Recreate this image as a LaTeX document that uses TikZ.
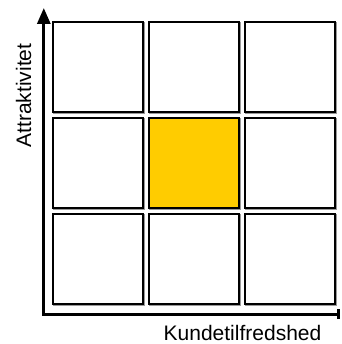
\documentclass[tikz,border=0pt]{standalone}
\usepackage{fontspec}
\setmainfont{Liberation Sans}
\usetikzlibrary{arrows.meta}
\definecolor{gold}{HTML}{FFCC00}
\tikzset{
  cell/.style={draw=black, line width=2pt, fill=white, minimum size=90pt, inner sep=0pt},
  cellshadow/.style={fill=black!40, minimum size=92pt, inner sep=0pt},
  axis/.style={line width=3pt},
  lbl/.style={font=\fontsize{21pt}{24pt}\selectfont, inner sep=0pt}
}
\begin{document}
\begin{tikzpicture}[x=1pt,y=-1pt]
\useasboundingbox (0,0) rectangle (341,344);
% shadows
\foreach \c/\x in {1/98,2/194,3/290}{
  \foreach \r/\y in {1/67,2/163,3/259}{
    \node[cellshadow] at (\x+1.3,\y+1.3) {};
  }
}
% cells
\foreach \c/\x in {1/98,2/194,3/290}{
  \foreach \r/\y in {1/67,2/163,3/259}{
    \node[cell] (b\r\c) at (\x,\y) {};
  }
}
\node[cell, fill=gold] (b22) at (194,163) {};
% axes
\coordinate (ytop) at (43.8,8);
\coordinate (orig) at (43.8,314);
\coordinate (xend) at (340,314);
\draw[axis, {Triangle[length=16pt,width=13pt]}-{Bar[width=10pt]}] (ytop) -- (orig) -- (xend);
% labels
\node[lbl, anchor=base] (xl) at (242.5,340.5) {Kundetilfredshed};
\node[lbl, anchor=base, rotate=90] (yl) at (31,95.5) {Attraktivitet};
\end{tikzpicture}
\end{document}
